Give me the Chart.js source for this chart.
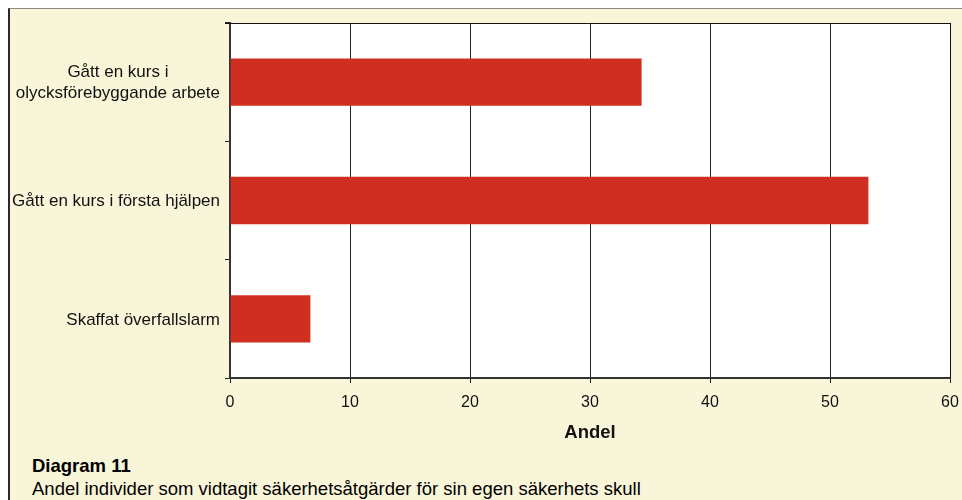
<!DOCTYPE html>
<html>
<head>
<meta charset="utf-8">
<script src="https://cdn.jsdelivr.net/npm/chart.js@4"></script>
<style>
    body { margin: 0; width: 962px; height: 500px; overflow: hidden; background: #ffffff; font-family: "Liberation Sans", Arial, sans-serif; }
    #panel { position: absolute; left: 8px; top: 8px; width: 960px; height: 500px; background: #f9f5d9; border-left: 2px solid #2a2a2a; border-top: 1px solid #8a8a8a; }
    #wrap { position: absolute; left: 0; top: 0; width: 962px; height: 450px; }
    .cap { position: absolute; left: 32px; font-size: 18.5px; color: #000; white-space: nowrap; }
    #capTitle { top: 455px; font-weight: bold; }
    #capText { top: 478px; }
</style>
</head>
<body>
<div id="panel"></div>
<div id="wrap"><canvas id="chart"></canvas></div>
<div class="cap" id="capTitle">Diagram 11</div>
<div class="cap" id="capText">Andel individer som vidtagit säkerhetsåtgärder för sin egen säkerhets skull</div>
<script>
var categories = [
    ['Gått en kurs i', 'olycksförebyggande arbete'],
    'Gått en kurs i första hjälpen',
    'Skaffat överfallslarm'
];
var values = [34.3, 53.2, 6.7];
var axisTitle = 'Andel';

var labelFont = '17px "Liberation Sans", Arial, sans-serif';
var labelLine = 21;

var plotFrame = {
    id: 'plotFrame',
    beforeDraw: function(chart) {
        var a = chart.chartArea, c = chart.ctx;
        c.save();
        c.fillStyle = '#ffffff';
        c.fillRect(a.left, a.top, a.right - a.left, a.bottom - a.top);
        c.restore();
    },
    afterDraw: function(chart) {
        var a = chart.chartArea, c = chart.ctx;
        c.save();
        c.strokeStyle = '#111';
        c.lineWidth = 1;
        c.beginPath();
        c.moveTo(a.left - 5, a.top + 0.5);
        c.lineTo(a.right + 0.5, a.top + 0.5);
        c.lineTo(a.right + 0.5, a.bottom);
        c.stroke();

        // category labels: right-aligned blocks, lines centred inside a block
        var y = chart.scales.y;
        c.font = labelFont;
        c.fillStyle = '#111';
        c.textAlign = 'center';
        c.textBaseline = 'middle';
        var right = a.left - 10;
        categories.forEach(function(lab, i) {
            var lines = Array.isArray(lab) ? lab : [lab];
            var w = 0;
            lines.forEach(function(l) { w = Math.max(w, c.measureText(l).width); });
            var cx = right - w / 2;
            var cy = y.getPixelForTick(i) + 1 - (lines.length - 1) * labelLine / 2;
            lines.forEach(function(l, k) { c.fillText(l, cx, cy + k * labelLine); });
        });
        c.restore();
    }
};

document.addEventListener('DOMContentLoaded', function() {
    var ctx = document.getElementById('chart').getContext('2d');
    Chart.defaults.font.family = '"Liberation Sans", Arial, sans-serif';
    Chart.defaults.font.size = 16;
    Chart.defaults.color = '#111';

    new Chart(ctx, {
        type: 'bar',
        data: {
            labels: categories,
            datasets: [{
                data: values,
                backgroundColor: '#d12e22',
                borderWidth: 0,
                barPercentage: 0.4,
                categoryPercentage: 1
            }]
        },
        plugins: [plotFrame],
        options: {
            indexAxis: 'y',
            responsive: true,
            maintainAspectRatio: false,
            animation: false,
            layout: { padding: { left: 8, right: 12, top: 23, bottom: 0 } },
            plugins: { legend: { display: false }, tooltip: { enabled: false } },
            scales: {
                x: {
                    min: 0,
                    max: 60,
                    ticks: { stepSize: 10, padding: 10, font: { size: 16 } },
                    grid: { color: '#222', lineWidth: 1, tickLength: 5, drawTicks: true },
                    border: { display: true, color: '#333', width: 2 },
                    title: { display: true, text: axisTitle, font: { size: 18.5, weight: 'bold' }, padding: { top: 4, bottom: 6 } },
                    afterFit: function(scale) {
                        scale.height = 72;
                        scale.paddingLeft = 0;
                        scale.paddingRight = 0;
                    }
                },
                y: {
                    ticks: { display: false },
                    grid: { drawOnChartArea: false, color: '#222', tickLength: 5, offset: true },
                    border: { display: true, color: '#333', width: 2 },
                    afterFit: function(scale) { scale.width = 222; }
                }
            }
        }
    });
});
</script>
</body>
</html>
